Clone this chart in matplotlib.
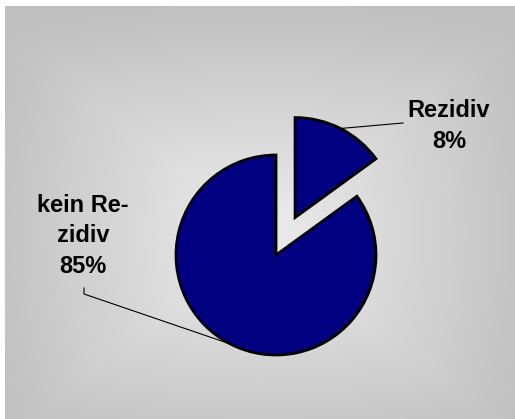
import numpy as np
import matplotlib
matplotlib.use("Agg")
import matplotlib.pyplot as plt

# data
categories = ["Rezidiv", "kein Rezidiv"]
values = [15, 85]                      # wedge sizes as drawn
label_texts = ["Rezidiv\n8%", "kein Re-\nzidiv\n85%"]
explode = [0.42, 0.0]
pie_color = "#000080"

W, H = 515, 419
fig = plt.figure(figsize=(W / 100, H / 100), dpi=100)
fig.patch.set_facecolor("white")

# background gradient panel
bg = fig.add_axes([5 / W, 0, (W - 5) / W, (H - 6) / H])
bg.set_axis_off()
ny, nx = 200, 250
yy, xx = np.mgrid[0:ny, 0:nx]
cx, cy = nx * 0.50, ny * 0.55
dx = np.abs(xx - cx) / (nx / 2)
dy = np.abs(yy - cy) / (ny / 2)
d_rect = np.maximum(dx, dy)
d_ell = np.sqrt(dx ** 2 + dy ** 2) / np.sqrt(2)
d = np.clip(0.6 * d_rect + 0.4 * d_ell, 0, 1)
light, dark = 0.93, 0.75
img = light + (dark - light) * d
bg.imshow(np.dstack([img, img, img]), aspect="auto", interpolation="bilinear")

# pie axes: 1 data unit = 100 px, pie centre at pixel (276, 255 from top)
ax = fig.add_axes([0, 0, 1, 1])
ax.set_axis_off()
ax.patch.set_alpha(0)
cx0, cy0 = 2.76, H / 100 - 2.55

wedges, _ = ax.pie(values, explode=explode, startangle=90, counterclock=False,
                   colors=[pie_color] * len(values), radius=1.0,
                   wedgeprops=dict(edgecolor="black", linewidth=2.0),
                   frame=False)
ax.set_aspect("auto")
ax.set_xlim(-cx0, W / 100 - cx0)
ax.set_ylim(-cy0, H / 100 - cy0)

font = dict(family=["Liberation Sans", "DejaVu Sans"], fontsize=17,
            fontweight="bold", color="black", ha="center", va="center",
            linespacing=1.43)

# Rezidiv label
w = wedges[0]
mid = np.deg2rad((w.theta1 + w.theta2) / 2)
c = w.center
p = (c[0] + np.cos(mid), c[1] + np.sin(mid))
ax.plot([p[0], 1.27], [p[1], 1.32], color="black", lw=0.8)
ax.text(1.73, 1.29, label_texts[0], **font)

# kein Rezidiv label
w = wedges[1]
mid = np.deg2rad((w.theta1 + w.theta2) / 2)
c = w.center
p = (c[0] + np.cos(mid), c[1] + np.sin(mid))
ax.plot([-1.92, -1.92, p[0]], [-0.33, -0.39, p[1]], color="black", lw=0.8)
ax.text(-1.93, 0.19, label_texts[1], **font)

fig.savefig("out.png", dpi=100, facecolor=fig.get_facecolor())
